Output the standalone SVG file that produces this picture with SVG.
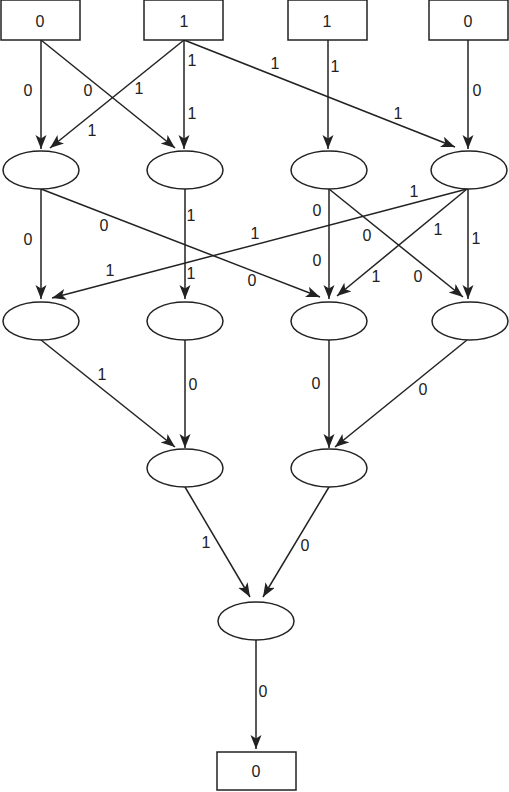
<svg xmlns="http://www.w3.org/2000/svg" width="509" height="792" viewBox="0 0 509 792">
<defs>
<marker id="arr" markerUnits="userSpaceOnUse" markerWidth="15" markerHeight="12" refX="14" refY="5.5" orient="auto">
<path d="M0,0 L14,5.5 L0,11 L3.5,5.5 z" fill="#222"/>
</marker>
<style>
.box{fill:#fff;stroke:#222;stroke-width:1.5}
.ell{fill:#fff;stroke:#222;stroke-width:1.5}
.e{stroke:#222;stroke-width:1.5;fill:none;marker-end:url(#arr)}
.t{font-family:"Liberation Sans",Arial,sans-serif;font-size:16px;fill:#222;text-anchor:middle}
</style>
</defs>
<rect width="509" height="792" fill="#fff"/>
<g id="connectors">
<line class="e" x1="41" y1="40" x2="41" y2="149"/>
<line class="e" x1="41" y1="40" x2="175" y2="148"/>
<line class="e" x1="184" y1="40" x2="50" y2="148"/>
<line class="e" x1="184" y1="40" x2="184" y2="149"/>
<line class="e" x1="184" y1="40" x2="455" y2="147"/>
<line class="e" x1="328" y1="40" x2="328" y2="149"/>
<line class="e" x1="468" y1="40" x2="468" y2="149"/>

<line class="e" x1="41" y1="189" x2="41" y2="299"/>
<line class="e" x1="41" y1="189" x2="320" y2="297"/>
<line class="e" x1="185" y1="189" x2="185" y2="299"/>
<line class="e" x1="467" y1="189" x2="52" y2="298"/>
<line class="e" x1="329" y1="189" x2="329" y2="299"/>
<line class="e" x1="329" y1="189" x2="463" y2="297"/>
<line class="e" x1="467" y1="189" x2="337" y2="296"/>
<line class="e" x1="468" y1="189" x2="468" y2="299"/>

<line class="e" x1="41" y1="340" x2="175" y2="447"/>
<line class="e" x1="185" y1="340" x2="185" y2="448"/>
<line class="e" x1="329" y1="340" x2="329" y2="448"/>
<line class="e" x1="467" y1="340" x2="335" y2="447"/>

<line class="e" x1="185" y1="487" x2="250" y2="597"/>
<line class="e" x1="329" y1="487" x2="263" y2="597"/>
<line class="e" x1="256" y1="640" x2="256" y2="749"/>
</g>
<g id="labels" class="t">
<text x="28" y="96">0</text>
<text x="88" y="96">0</text>
<text x="139" y="94">1</text>
<text x="92" y="136">1</text>
<text x="192" y="66">1</text>
<text x="192" y="119">1</text>
<text x="275" y="69">1</text>
<text x="398" y="119">1</text>
<text x="335" y="72">1</text>
<text x="477" y="96">0</text>

<text x="28" y="245">0</text>
<text x="104" y="231">0</text>
<text x="252" y="286">0</text>
<text x="191" y="221">1</text>
<text x="191" y="279">1</text>
<text x="255" y="239">1</text>
<text x="110" y="276">1</text>
<text x="414" y="197">1</text>
<text x="317" y="216">0</text>
<text x="317" y="266">0</text>
<text x="367" y="241">0</text>
<text x="418" y="282">0</text>
<text x="438" y="235">1</text>
<text x="376" y="282">1</text>
<text x="476" y="244">1</text>

<text x="102" y="380">1</text>
<text x="193" y="390">0</text>
<text x="316" y="389">0</text>
<text x="423" y="395">0</text>

<text x="206" y="548">1</text>
<text x="305" y="551">0</text>
<text x="263" y="697">0</text>
</g>
<g id="in1"><rect class="box" x="1" y="0" width="79" height="40"/><text class="t" x="40" y="27">0</text></g>
<g id="in2"><rect class="box" x="144" y="0" width="79" height="40"/><text class="t" x="184" y="27">1</text></g>
<g id="in3"><rect class="box" x="288" y="0" width="79" height="40"/><text class="t" x="327" y="27">1</text></g>
<g id="in4"><rect class="box" x="429" y="0" width="79" height="40"/><text class="t" x="468" y="27">0</text></g>

<g id="n1a"><ellipse class="ell" cx="41" cy="170" rx="38" ry="19"/></g>
<g id="n1b"><ellipse class="ell" cx="185" cy="170" rx="38" ry="19"/></g>
<g id="n1c"><ellipse class="ell" cx="329" cy="170" rx="38" ry="19"/></g>
<g id="n1d"><ellipse class="ell" cx="469" cy="170" rx="38" ry="19"/></g>

<g id="n2a"><ellipse class="ell" cx="41" cy="321" rx="38" ry="19"/></g>
<g id="n2b"><ellipse class="ell" cx="185" cy="321" rx="38" ry="19"/></g>
<g id="n2c"><ellipse class="ell" cx="329" cy="321" rx="38" ry="19"/></g>
<g id="n2d"><ellipse class="ell" cx="470" cy="321" rx="38" ry="19"/></g>

<g id="n3a"><ellipse class="ell" cx="185" cy="468" rx="38" ry="19"/></g>
<g id="n3b"><ellipse class="ell" cx="329" cy="468" rx="38" ry="19"/></g>

<g id="n4"><ellipse class="ell" cx="256" cy="621" rx="38" ry="19"/></g>

<g id="out"><rect class="box" x="217" y="752" width="79" height="38"/><text class="t" x="256" y="777">0</text></g>
</svg>
